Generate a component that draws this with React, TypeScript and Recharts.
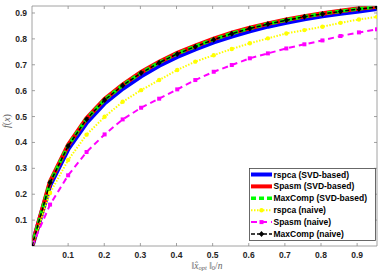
import { Legend, Line, LineChart, XAxis, YAxis } from "recharts";

// x = ||x_opt||_0 / n
const sparsity = [
  0, 0.05, 0.1, 0.151, 0.201, 0.251, 0.302, 0.352, 0.402, 0.452, 0.503, 0.553,
  0.603, 0.653, 0.704, 0.754, 0.804, 0.854, 0.905, 0.955,
];

const rspcaSvd = [
  0, 0.237, 0.376, 0.478, 0.553, 0.609, 0.657, 0.698, 0.732, 0.761, 0.788,
  0.811, 0.831, 0.849, 0.864, 0.878, 0.889, 0.899, 0.908, 0.917,
];
const spasmSvd = [
  0, 0.248, 0.39, 0.493, 0.567, 0.623, 0.671, 0.711, 0.745, 0.773, 0.8, 0.823,
  0.842, 0.859, 0.874, 0.887, 0.898, 0.908, 0.917, 0.925,
];
const maxcompSvd = [
  0, 0.246, 0.388, 0.491, 0.565, 0.621, 0.669, 0.709, 0.743, 0.771, 0.798,
  0.821, 0.841, 0.858, 0.873, 0.886, 0.897, 0.907, 0.916, 0.924,
];
const rspcaNaive = [
  0, 0.205, 0.332, 0.43, 0.499, 0.557, 0.602, 0.641, 0.68, 0.712, 0.737, 0.761,
  0.783, 0.802, 0.821, 0.834, 0.847, 0.862, 0.875, 0.885,
];
const spasmNaive = [
  0, 0.16, 0.273, 0.363, 0.431, 0.489, 0.534, 0.569, 0.605, 0.641, 0.673,
  0.699, 0.725, 0.744, 0.763, 0.779, 0.794, 0.811, 0.825, 0.837,
];
const maxcompNaive = [
  0, 0.245, 0.386, 0.49, 0.564, 0.62, 0.668, 0.708, 0.742, 0.77, 0.797, 0.82,
  0.84, 0.857, 0.872, 0.885, 0.896, 0.906, 0.915, 0.923,
];

const tickValues = [0.1, 0.2, 0.3, 0.4, 0.5, 0.6, 0.7, 0.8, 0.9];

const data = sparsity.map((x, i) => ({
  x,
  rspcaSvd: rspcaSvd[i],
  spasmSvd: spasmSvd[i],
  maxcompSvd: maxcompSvd[i],
  rspcaNaive: rspcaNaive[i],
  spasmNaive: spasmNaive[i],
  maxcompNaive: maxcompNaive[i],
}));

type Marker = "none" | "circle" | "square" | "diamond";

const series: {
  key: string;
  name: string;
  color: string;
  width: number;
  dash?: string;
  marker: Marker;
}[] = [
  { key: "rspcaSvd", name: "rspca (SVD-based)", color: "#0000ff", width: 5, marker: "none" },
  { key: "spasmSvd", name: "Spasm (SVD-based)", color: "#ff0000", width: 4.5, marker: "none" },
  { key: "maxcompSvd", name: "MaxComp (SVD-based)", color: "#00ff00", width: 3.5, dash: "5 3", marker: "none" },
  { key: "rspcaNaive", name: "rspca (naive)", color: "#ffff00", width: 2, dash: "1.5 1.5", marker: "circle" },
  { key: "spasmNaive", name: "Spasm (naive)", color: "#ff00ff", width: 2, dash: "6 4", marker: "square" },
  { key: "maxcompNaive", name: "MaxComp (naive)", color: "#000000", width: 1.5, dash: "4 2", marker: "diamond" },
];

const AXIS = "#8a8a8a";
const TICK_TEXT = "#262626";
const SANS = "'Liberation Sans', Arial, sans-serif";
const SERIF = "'Liberation Serif', 'DejaVu Serif', serif";

function drawMarker(kind: Marker, cx: number, cy: number, color: string, key?: string | number) {
  if (kind === "circle") return <circle key={key} cx={cx} cy={cy} r={2.2} fill={color} />;
  if (kind === "square")
    return <rect key={key} x={cx - 2} y={cy - 2} width={4} height={4} fill={color} />;
  if (kind === "diamond")
    return (
      <path
        key={key}
        d={`M${cx},${cy - 3}L${cx + 2.6},${cy}L${cx},${cy + 3}L${cx - 2.6},${cy}Z`}
        fill={color}
      />
    );
  return <g key={key} />;
}

function BottomTick({ x, y, payload }: any) {
  return (
    <g>
      <line x1={x} y1={y} x2={x} y2={y - 3} stroke={AXIS} strokeWidth={0.8} />
      <text
        x={x}
        y={y + 12}
        textAnchor="middle"
        fill={TICK_TEXT}
        fontSize={8.5}
        fontWeight="bold"
        fontFamily={SANS}
      >
        {payload.value.toFixed(1)}
      </text>
    </g>
  );
}

function TopTick({ x, y }: any) {
  return <line x1={x} y1={y} x2={x} y2={y + 3} stroke={AXIS} strokeWidth={0.8} />;
}

function LeftTick({ x, y, payload }: any) {
  return (
    <g>
      <line x1={x} y1={y} x2={x + 3} y2={y} stroke={AXIS} strokeWidth={0.8} />
      <text
        x={x - 5}
        y={y + 3}
        textAnchor="end"
        fill={TICK_TEXT}
        fontSize={8.5}
        fontWeight="bold"
        fontFamily={SANS}
      >
        {payload.value.toFixed(1)}
      </text>
    </g>
  );
}

function RightTick({ x, y }: any) {
  return <line x1={x} y1={y} x2={x - 3} y2={y} stroke={AXIS} strokeWidth={0.8} />;
}

function LegendBox() {
  return (
    <svg width={127} height={73} style={{ display: "block" }}>
      <rect x={0.5} y={0.5} width={126} height={72} fill="#fff" stroke="#444" strokeWidth={0.8} />
      {series.map((s, i) => {
        const cy = 6.5 + i * 11.9;
        return (
          <g key={s.key}>
            <line
              x1={2}
              y1={cy}
              x2={23}
              y2={cy}
              stroke={s.color}
              strokeWidth={Math.min(s.width, 4)}
              strokeDasharray={s.dash}
            />
            {drawMarker(s.marker, 12.5, cy, s.color)}
            <text
              x={24.5}
              y={cy + 3}
              fill="#000"
              fontSize={8.5}
              fontWeight="bold"
              fontFamily={SANS}
            >
              {s.name}
            </text>
          </g>
        );
      })}
    </svg>
  );
}

export default function App() {
  return (
    <div
      style={{
        position: "absolute",
        left: 0,
        top: 0,
        width: 382,
        height: 272,
        background: "#fff",
      }}
    >
      <LineChart
        width={382}
        height={272}
        data={data}
        margin={{ top: 5, right: 4, bottom: 25, left: 31 }}
      >
        <XAxis
          xAxisId="bottom"
          dataKey="x"
          type="number"
          domain={[0, 0.955]}
          ticks={tickValues}
          height={1}
          tickSize={0}
          tickMargin={0}
          tickLine={false}
          axisLine={{ stroke: AXIS, strokeWidth: 0.8 }}
          tick={<BottomTick />}
          allowDataOverflow
          label={{
            content: () => (
              <text
                x={207}
                y={268.5}
                textAnchor="middle"
                fill="#666"
                fontSize={9.5}
                fontFamily={SERIF}
              >
                ‖<tspan fontStyle="italic">x̂</tspan>
                <tspan fontStyle="italic" fontSize={6.5} dy={1.5}>
                  opt
                </tspan>
                <tspan dy={-1.5} dx={2.5}>‖</tspan>
                <tspan fontSize={6.5} dy={1.5}>
                  0
                </tspan>
                <tspan dy={-1.5}>/</tspan>
                <tspan fontStyle="italic">n</tspan>
              </text>
            ),
          }}
        />
        <XAxis
          xAxisId="top"
          orientation="top"
          dataKey="x"
          type="number"
          domain={[0, 0.955]}
          ticks={tickValues}
          height={1}
          tickSize={0}
          tickMargin={0}
          tickLine={false}
          axisLine={{ stroke: AXIS, strokeWidth: 0.8 }}
          tick={<TopTick />}
          allowDataOverflow
        />
        <YAxis
          yAxisId="left"
          type="number"
          domain={[0, 0.927]}
          ticks={tickValues}
          width={1}
          tickSize={0}
          tickMargin={0}
          tickLine={false}
          axisLine={{ stroke: AXIS, strokeWidth: 0.8 }}
          tick={<LeftTick />}
          allowDataOverflow
          label={{
            content: () => (
              <text
                x={10}
                y={121}
                transform="rotate(-90, 10, 121)"
                textAnchor="middle"
                fill="#666"
                fontSize={10}
                fontFamily={SERIF}
              >
                <tspan fontStyle="italic">f</tspan>
                <tspan>(</tspan>
                <tspan fontStyle="italic">x</tspan>
                <tspan>)</tspan>
              </text>
            ),
          }}
        />
        <YAxis
          yAxisId="right"
          orientation="right"
          type="number"
          domain={[0, 0.927]}
          ticks={tickValues}
          width={1}
          tickSize={0}
          tickMargin={0}
          tickLine={false}
          axisLine={{ stroke: AXIS, strokeWidth: 0.8 }}
          tick={<RightTick />}
          allowDataOverflow
        />
        {series.map((s) => (
          <Line
            key={s.key}
            xAxisId="bottom"
            yAxisId="left"
            type="linear"
            dataKey={s.key}
            name={s.name}
            stroke={s.color}
            strokeWidth={s.width}
            strokeDasharray={s.dash}
            dot={
              s.marker === "none"
                ? false
                : (p: any) => drawMarker(s.marker, p.cx, p.cy, s.color, `${s.key}-${p.index}`)
            }
            activeDot={false}
            isAnimationActive={false}
          />
        ))}
        <Legend
          layout="vertical"
          align="center"
          verticalAlign="middle"
          content={() => <LegendBox />}
          wrapperStyle={{ position: "absolute", left: 249, top: 168, width: 127, height: 73 }}
        />
      </LineChart>
    </div>
  );
}
